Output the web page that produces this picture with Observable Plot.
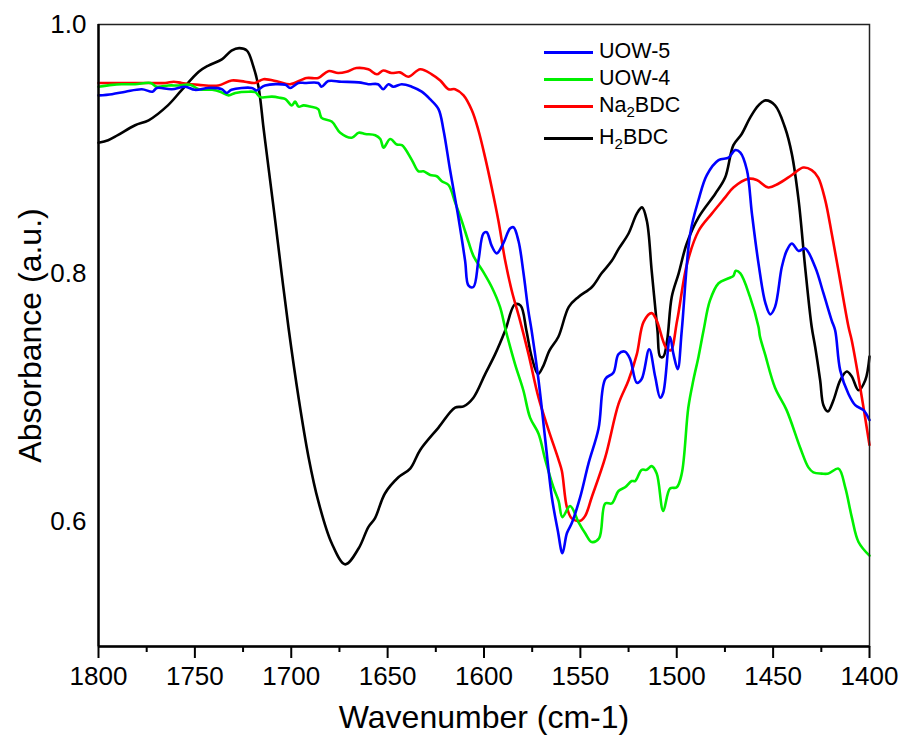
<!DOCTYPE html>
<html>
<head>
<meta charset="utf-8">
<script src="https://cdn.jsdelivr.net/npm/d3@7"></script>
<script src="https://cdn.jsdelivr.net/npm/@observablehq/plot@0.6"></script>
<style>
  html, body { margin: 0; padding: 0; background: #fff; }
  #wrap { position: relative; width: 901px; height: 742px; font-family: "Liberation Sans", Arial, sans-serif; }
  #legend { position: absolute; left: 544px; top: 0; }
  .entry { position: absolute; left: 0; height: 24px; display: flex; align-items: center; white-space: nowrap; font-size: 21.5px; color: #000; line-height: 1; }
  .sw { display: inline-block; width: 49px; height: 0; border-top: 3px solid; margin-right: 6px; }
  sub { font-size: 0.7em; vertical-align: -0.3em; line-height: 0; }
</style>
</head>
<body>
<div id="wrap"></div>
<script>
// ---- data ----
const seriesNames = ["UOW-5", "UOW-4", "Na2BDC", "H2BDC"];
const seriesColors = ["#0000ff", "#00f000", "#ff0000", "#000000"];
const legendLabels = ["UOW-5", "UOW-4", "Na<sub>2</sub>BDC", "H<sub>2</sub>BDC"];

const xTicks = [1800, 1750, 1700, 1650, 1600, 1550, 1500, 1450, 1400];
const xMinorTicks = [1775, 1725, 1675, 1625, 1575, 1525, 1475, 1425];
const yTicks = [0.6, 0.8, 1.0];

const wnH2 = [1800,1795,1790,1781,1774,1764,1757,1748,1743,1736,1731,1727,1723,1720,1717,1714.4,1711.8,1708.3,1705,1701.4,1696.2,1691,1686,1679,1672,1665,1660,1656.6,1651.4,1644.4,1638.3,1633.1,1623.6,1615,1610.6,1605.5,1599.4,1594.2,1589,1584,1581,1578,1575.3,1572,1569.4,1566,1561.4,1556,1551,1544,1539,1533.7,1530,1525,1520.7,1518,1515.5,1513,1510,1508.6,1507,1505,1502.6,1499,1494.8,1488.7,1480,1474.9,1470.6,1466.3,1462,1457.6,1454,1449,1443.8,1440.3,1436.8,1433.4,1430,1428.2,1425.6,1423.9,1421.6,1418.7,1415.2,1411.8,1409.2,1405.7,1402.2,1400];
const abH2 = [0.905,0.907,0.911,0.919,0.923,0.935,0.947,0.962,0.967,0.972,0.979,0.981,0.979,0.968,0.950,0.917,0.885,0.842,0.800,0.756,0.700,0.652,0.617,0.583,0.566,0.579,0.596,0.603,0.623,0.636,0.643,0.658,0.676,0.692,0.693,0.700,0.719,0.735,0.754,0.775,0.774,0.754,0.733,0.719,0.725,0.738,0.749,0.773,0.781,0.789,0.800,0.810,0.820,0.832,0.848,0.853,0.842,0.802,0.754,0.733,0.733,0.746,0.781,0.800,0.824,0.845,0.864,0.877,0.903,0.912,0.925,0.935,0.939,0.935,0.917,0.896,0.859,0.805,0.757,0.741,0.714,0.694,0.689,0.698,0.714,0.721,0.717,0.706,0.714,0.733];

const wnU5 = [1800,1793,1786,1777.5,1772,1769.7,1762,1755,1750,1743,1736,1733.5,1731,1720.5,1718,1713.6,1703,1700.6,1696.3,1693,1686,1684.3,1680.8,1674,1665,1660,1655,1652.3,1649.6,1647,1642.7,1637.5,1632.3,1628,1623.6,1621,1617.6,1613.3,1609.8,1608,1605.5,1602.9,1600.3,1598.6,1596,1593.4,1590,1586.5,1584.7,1582.1,1579.5,1577,1575.3,1571.7,1568.2,1564.8,1561.7,1559.3,1557,1554.5,1550.1,1545.8,1540.6,1537.1,1532.9,1530.2,1526.8,1524.2,1520.7,1518.2,1514.3,1511.2,1508.6,1507,1503.5,1501.7,1499.5,1497.4,1493,1488.7,1484.4,1478.3,1473.1,1469.7,1467,1463.6,1461,1457.6,1454,1451.5,1449,1445.5,1443,1440.3,1436.8,1433.4,1428.2,1423.9,1419.6,1417.8,1415.2,1410.9,1407.4,1403.1,1400];
const abU5 = [0.943,0.944,0.946,0.948,0.946,0.949,0.948,0.950,0.9475,0.949,0.948,0.945,0.9475,0.949,0.947,0.951,0.9515,0.949,0.953,0.953,0.953,0.950,0.9545,0.954,0.9535,0.952,0.952,0.948,0.952,0.950,0.952,0.950,0.946,0.940,0.932,0.915,0.883,0.845,0.810,0.790,0.789,0.810,0.832,0.833,0.822,0.816,0.824,0.836,0.837,0.826,0.800,0.770,0.754,0.714,0.666,0.620,0.593,0.575,0.591,0.599,0.620,0.647,0.675,0.715,0.720,0.735,0.737,0.731,0.712,0.715,0.739,0.717,0.700,0.704,0.749,0.735,0.723,0.754,0.832,0.859,0.879,0.891,0.893,0.899,0.897,0.883,0.848,0.808,0.776,0.767,0.773,0.805,0.818,0.824,0.818,0.820,0.805,0.784,0.762,0.754,0.722,0.703,0.694,0.690,0.682];

const wnU4 = [1800,1793,1788,1781,1773,1769.7,1763.7,1758.5,1752.4,1748,1741,1736.9,1732.5,1729,1722,1718.7,1716,1710,1705.7,1703,1699.7,1698,1696.2,1693.6,1690.2,1686,1684.3,1679,1674.6,1668.6,1665,1661.6,1656.4,1653.8,1652.1,1648.7,1645.2,1642.6,1637.4,1634,1631.4,1627.9,1624.5,1621.9,1618.4,1615,1611.5,1608,1605.5,1600.3,1596,1591.7,1588.7,1583.9,1579.6,1576.1,1571.7,1568.2,1564,1561.3,1559.3,1555.3,1551,1547.5,1544.1,1540.3,1537.1,1533.7,1530.2,1526.8,1523.4,1521.6,1518.2,1515.6,1513,1510.4,1507,1503.5,1500,1497.4,1494,1491.4,1488.7,1486.1,1482.8,1478.3,1473.1,1470.6,1469.4,1467,1462,1457.6,1456.8,1454.2,1449,1443,1436,1431.7,1429.1,1424.8,1421.3,1416.1,1412.6,1409.2,1405.7,1400];
const abU4 = [0.950,0.9515,0.952,0.952,0.953,0.950,0.951,0.951,0.9515,0.948,0.9475,0.946,0.943,0.945,0.946,0.9456,0.9416,0.942,0.941,0.940,0.935,0.938,0.934,0.935,0.934,0.932,0.925,0.922,0.913,0.909,0.913,0.912,0.911,0.908,0.901,0.908,0.9035,0.903,0.891,0.882,0.882,0.879,0.878,0.874,0.871,0.857,0.842,0.825,0.814,0.801,0.789,0.773,0.754,0.727,0.706,0.684,0.671,0.650,0.628,0.617,0.604,0.613,0.600,0.591,0.584,0.587,0.615,0.615,0.625,0.628,0.633,0.633,0.642,0.642,0.645,0.639,0.609,0.627,0.628,0.639,0.692,0.714,0.733,0.754,0.778,0.792,0.796,0.798,0.802,0.800,0.781,0.757,0.749,0.735,0.708,0.690,0.660,0.644,0.640,0.639,0.639,0.643,0.628,0.604,0.584,0.573];

const wnNa = [1800,1789.6,1777.5,1765.4,1761,1756.8,1748,1737.8,1730.9,1724,1718.8,1714.4,1706.6,1700.6,1692,1686,1680.8,1675.7,1671.3,1666.2,1660,1655.6,1652.3,1648,1643.6,1639.3,1633.1,1627.1,1622.7,1618.4,1615,1610.6,1606.3,1602.9,1599.4,1596,1592.5,1589,1585.6,1581.3,1576.9,1571.7,1566.5,1561.3,1559.6,1557,1554.5,1550.1,1547.5,1544.1,1537.1,1530.2,1525,1520.7,1517.2,1513,1510.4,1505.8,1503.2,1499.8,1494.6,1488.7,1481.8,1474.9,1470.6,1462.8,1458.5,1452.5,1447.3,1440.3,1434.4,1430,1426.6,1423,1419.6,1416.1,1410.9,1409.2,1404.8,1400];
const abNa = [0.953,0.953,0.953,0.953,0.954,0.953,0.9515,0.951,0.955,0.954,0.953,0.956,0.954,0.952,0.957,0.957,0.9625,0.961,0.962,0.965,0.964,0.960,0.963,0.961,0.9615,0.958,0.964,0.960,0.955,0.948,0.948,0.943,0.931,0.915,0.893,0.869,0.842,0.810,0.786,0.762,0.735,0.700,0.674,0.650,0.641,0.612,0.603,0.601,0.605,0.620,0.652,0.695,0.714,0.735,0.761,0.768,0.762,0.741,0.738,0.762,0.808,0.834,0.848,0.861,0.869,0.876,0.875,0.869,0.872,0.879,0.885,0.883,0.877,0.859,0.832,0.802,0.757,0.746,0.708,0.662];

const wnAll = [wnU5, wnU4, wnNa, wnH2];
const abAll = [abU5, abU4, abNa, abH2];

// table for Plot (drawn bottom-to-top: H2BDC first, UOW-5 last)
const drawOrder = [3, 2, 1, 0];
const data = drawOrder.flatMap(i => wnAll[i].map((w, j) => ({series: seriesNames[i], wn: w, ab: abAll[i][j]})));

const font = '"Liberation Sans", Arial, sans-serif';

const chart = Plot.plot({
  width: 901,
  height: 742,
  marginLeft: 98,
  marginRight: 32,
  marginTop: 24,
  marginBottom: 96,
  style: {fontFamily: font, background: "#fff", color: "#000", overflow: "visible"},
  x: {domain: [1800, 1400]},
  y: {domain: [0.5, 1.0]},
  color: {domain: seriesNames, range: seriesColors},
  marks: [
    Plot.line(data, {x: "wn", y: "ab", z: "series", stroke: "series", strokeWidth: 2.6, curve: "catmull-rom"}),
    Plot.frame({stroke: "#222", strokeWidth: 1.5}),
    Plot.ruleY([0.5], {stroke: "#000", strokeWidth: 2.4}),
    Plot.ruleX([1800], {stroke: "#000", strokeWidth: 2.4}),
    Plot.ruleX(xMinorTicks, {y1: 0.5, y2: 0.5, insetBottom: -6, stroke: "#000", strokeWidth: 2}),
    Plot.axisX(xTicks, {tickSize: 12, tickPadding: 8, fontSize: 26, strokeWidth: 2, label: null, tickFormat: d => String(d)}),
    Plot.axisY(yTicks, {tickSize: 0, tickPadding: 12, fontSize: 26, label: null, tickFormat: d3.format(".1f")}),
    Plot.text(["Wavenumber (cm-1)"], {frameAnchor: "bottom", dy: 81, fontSize: 32, fill: "#000", textAnchor: "middle"}),
    Plot.text(["Absorbance (a.u.)"], {frameAnchor: "left", dx: -68, rotate: -90, fontSize: 32, fill: "#000", textAnchor: "middle"})
  ]
});

const wrap = document.getElementById("wrap");
wrap.appendChild(chart);

// legend (HTML overlay)
const legendCenters = [52, 79, 106, 138];
const legend = document.createElement("div");
legend.id = "legend";
seriesNames.forEach((name, i) => {
  const e = document.createElement("div");
  e.className = "entry";
  e.style.top = (legendCenters[i] - 12) + "px";
  e.innerHTML = `<span class="sw" style="border-color:${seriesColors[i]}"></span><span>${legendLabels[i]}</span>`;
  legend.appendChild(e);
});
wrap.appendChild(legend);
</script>
</body>
</html>
